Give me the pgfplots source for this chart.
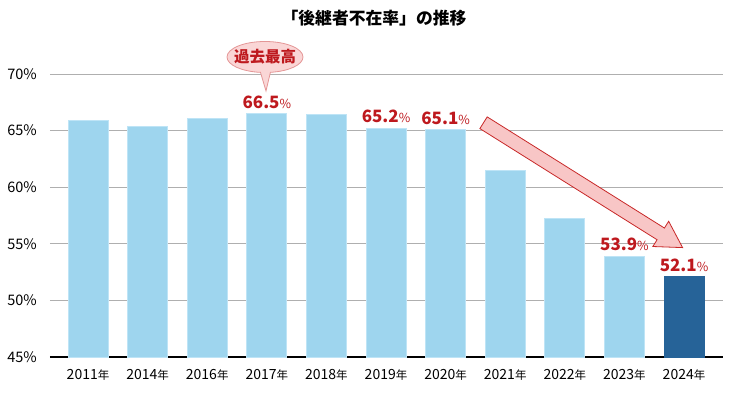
\documentclass[border=0pt]{standalone}
\usepackage{fontspec}
\setmainfont{Noto Sans CJK JP}
\usepackage{pgfplots}
\pgfplotsset{compat=1.18}
\usetikzlibrary{shapes.callouts,shapes.arrows}
\definecolor{barblue}{RGB}{158,213,238}
\definecolor{baredge}{RGB}{190,228,246}
\definecolor{darkblue}{RGB}{38,99,152}
\definecolor{labred}{RGB}{190,25,30}
\definecolor{gridgray}{RGB}{175,175,175}
\definecolor{arrowfill}{RGB}{248,198,198}
\definecolor{arrowdraw}{RGB}{200,40,40}
\definecolor{callfill}{RGB}{250,214,214}
\definecolor{calldraw}{RGB}{228,150,150}
\newcommand\nen{{\fontsize{11.5}{11.5}\selectfont 年}}
\begin{document}
\begin{tikzpicture}
\path[use as bounding box] (0pt,0pt) rectangle (730pt,395pt);
\begin{axis}[
  at={(50pt,38pt)}, anchor=south west,
  scale only axis, width=673pt, height=283pt,
  xmin=-0.638, xmax=10.654, ymin=45, ymax=70,
  ytick={45,50,55,60,65,70},
  yticklabel={\pgfmathprintnumber{\tick}\%},
  /pgf/number format/assume math mode=true,
  yticklabel style={font=\fontsize{14.5}{14.5}\selectfont, anchor=east, inner sep=0pt, xshift=-13pt},
  xtick={0,...,10},
  xticklabels={2011\nen,2014\nen,2016\nen,2017\nen,2018\nen,2019\nen,2020\nen,2021\nen,2022\nen,2023\nen,2024\nen},
  xticklabel style={font=\fontsize{14}{14}\selectfont, anchor=base, inner sep=0pt, yshift=-23pt},
  major tick length=0pt,
  ymajorgrids, major grid style={gridgray, line width=0.9pt},
  axis lines*=left,
  y axis line style={draw=none},
  x axis line style={black, line width=1.3pt, -},
  clip=false,
]
\addplot[ybar, bar width=40pt, bar shift=0pt, fill=barblue, draw=baredge, line width=0.8pt]
  coordinates {(0,65.9) (1,65.4) (2,66.1) (3,66.5) (4,66.4) (5,65.2) (6,65.1) (7,61.5) (8,57.2) (9,53.9)};
\addplot[ybar, bar width=40pt, bar shift=0pt, fill=darkblue, draw=darkblue, line width=0.8pt]
  coordinates {(10,52.1)};
\addplot[draw=none, mark=none, point meta=explicit symbolic,
  nodes near coords={\textbf{\pgfplotspointmeta}{\fontsize{12.5}{12.5}\selectfont\%}},
  every node near coord/.append style={font=\fontsize{17}{17}\selectfont, text=labred, inner sep=0pt, yshift=5pt}]
  coordinates {(3,66.5)[66.5] (5,65.2)[65.2] (6,65.1)[65.1] (9,53.9)[53.9] (10,52.1)[52.1]};
\end{axis}
% title
\node[font=\bfseries\fontsize{16.8}{16.8}\selectfont, anchor=center] at (374pt,377pt) {「後継者不在率」の推移};
% callout
\node[ellipse callout, callout absolute pointer={(266pt,304pt)}, fill=callfill, draw=calldraw, line width=0.8pt,
  minimum width=76pt, minimum height=31pt, inner xsep=-9pt, inner ysep=-3pt,
  font=\bfseries\fontsize{15.5}{15.5}\selectfont, text=labred] at (265pt,338pt) {過去最高};
% arrow
\node[single arrow, draw=arrowdraw, fill=arrowfill, line width=0.8pt,
  minimum height=235pt, minimum width=29pt, single arrow head extend=8pt,
  single arrow tip angle=60, inner xsep=0pt, inner ysep=6.5pt, rotate=-32.1] at (578pt,213pt) {};
\end{tikzpicture}
\end{document}
